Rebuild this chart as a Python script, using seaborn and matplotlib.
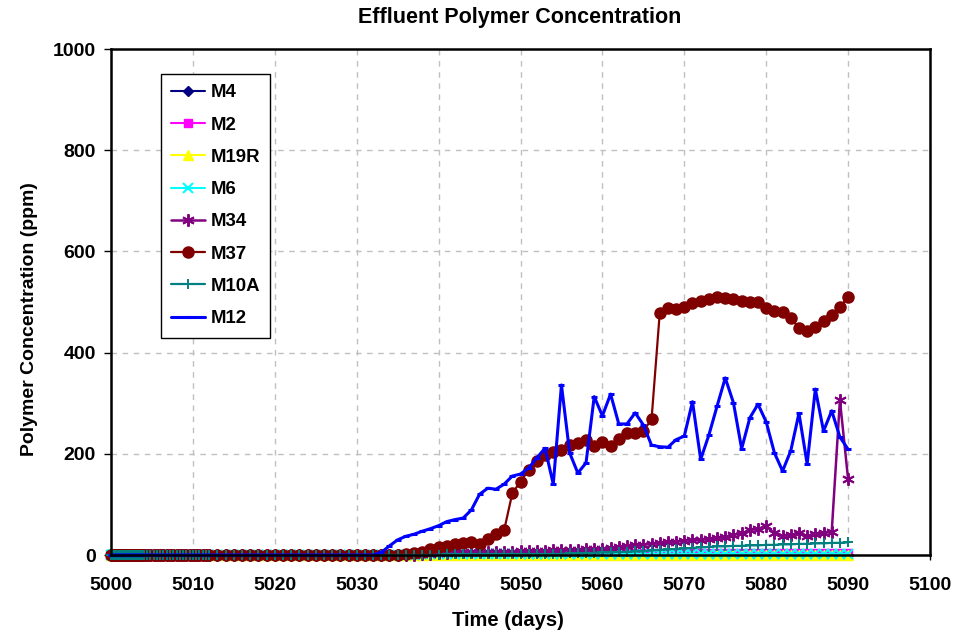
import numpy as np
import pandas as pd
import matplotlib
matplotlib.use("Agg")
import matplotlib.pyplot as plt
import seaborn as sns

# ---- data -------------------------------------------------------------
# dense early sampling, all wells still at zero concentration
early_days = np.round(np.concatenate([np.arange(5000, 5004, 0.1),
                                      np.arange(5004, 5012, 0.4)]), 2)
baseline_early = [0.0] * len(early_days)

# daily samples from day 5012 to 5090
days = np.arange(5012, 5091)

m4 = [0, 0, 0, 0, 0, 0, 0, 0, 0, 0,
      0, 0, 0, 0, 0, 0, 0, 0, 0, 0,
      0, 0, 0, 0, 0, 0, 0, 0, 0, 0,
      0, 0, 0, 0, 0, 0, 0, 0, 0, 0,
      0, 0, 0, 0, 0, 0, 0, 0, 0, 0,
      0, 0, 0, 0, 0, 0, 0, 0, 0, 0,
      0, 0, 0, 0, 0, 0, 0, 0, 0, 0,
      0, 0, 0, 0, 0, 0, 0, 0, 0]

m2 = [0, 0, 0, 0, 0, 0, 0, 0, 0, 0,
      0, 0, 0, 0, 0, 0, 0, 0, 0, 0,
      0, 0, 0, 0, 0, 0, 1, 1, 1, 2,
      2, 2, 2, 2, 2, 2, 2, 2, 2, 2,
      2, 2, 2, 2, 2, 2, 3, 3, 3, 3,
      3, 3, 3, 3, 3, 3, 3, 3, 3, 3,
      3, 3, 3, 3, 3, 3, 3, 3, 3, 3,
      3, 3, 3, 3, 3, 3, 3, 3, 3]

m19r = [0, 0, 0, 0, 0, 0, 0, 0, 0, 0,
        0, 0, 0, 0, 0, 0, 0, 0, 0, 0,
        0, 0, 0, 0, 0, 0, 0, 0, 0, 0,
        0, 0, 0, 0, 0, 0, 0, 0, 0, 0,
        0, 0, 0, 0, 0, 0, 0, 0, 0, 0,
        0, 0, 0, 0, 0, 0, 0, 0, 0, 0,
        0, 0, 0, 0, 0, 0, 0, 0, 0, 0,
        0, 0, 0, 0, 0, 0, 0, 0, 0]

m6 = [0, 0, 0, 0, 0, 0, 0, 0, 0, 0,
      0, 0, 0, 0, 0, 0, 0, 0, 0, 0,
      0, 0, 0, 0, 0, 0, 1, 1, 1, 1,
      1, 1, 1, 1, 1, 1, 1, 1, 1, 1,
      1, 1, 1, 1, 2, 2, 2, 2, 2, 2,
      2, 2, 2, 2, 2, 2, 2, 2, 2, 2,
      2, 2, 2, 2, 2, 2, 2, 2, 2, 2,
      2, 2, 2, 2, 2, 2, 2, 2, 2]

m34 = [0, 0, 0, 0, 0, 0, 0, 0, 0, 0,
       0, 0, 0, 0, 0, 0, 0, 0, 0, 0,
       0, 0, 0, 0, 0, 0, 1, 2, 3, 4,
       5, 5, 5, 5, 5, 6, 6, 6, 7, 7,
       8, 8, 9, 9, 10, 10, 11, 11, 12, 13,
       15, 17, 19, 20, 22, 23, 25, 26, 28, 29,
       30, 31, 33, 36, 40, 43, 49, 52, 57, 43,
       37, 39, 43, 37, 41, 43, 46, 306, 150]

m37 = [0, 0, 0, 0, 0, 0, 0, 0, 0, 0,
       0, 0, 0, 0, 0, 0, 0, 0, 0, 0,
       0, 0, 0, 0, 2, 3, 6, 12, 16, 18,
       22, 24, 26, 22, 32, 41, 49, 122, 145, 168,
       186, 197, 204, 208, 217, 221, 227, 216, 223, 216,
       229, 241, 241, 245, 268, 478, 488, 486, 490, 498,
       502, 506, 510, 508, 506, 502, 500, 500, 488, 483,
       480, 468, 449, 443, 451, 462, 474, 490, 510]

m10a = [0, 0, 0, 0, 0, 0, 0, 0, 0, 0,
        0, 0, 0, 0, 0, 0, 0, 0, 0, 0,
        0, 0, 0, 0, 0, 0, 0, 0, 0, 2,
        2, 2, 2, 2, 2, 2, 2, 2, 2, 2,
        2, 2, 2, 2, 3, 3, 4, 4, 5, 5,
        6, 6, 7, 7, 9, 10, 11, 12, 13, 14,
        15, 16, 17, 17, 18, 18, 19, 19, 20, 20,
        21, 21, 22, 22, 23, 23, 24, 24, 25]

m12 = [0, 0, 0, 0, 0, 0, 0, 0, 0, 0,
       0, 0, 0, 0, 0, 0, 0, 0, 0, 0,
       0, 5, 18, 30, 37, 41, 47, 52, 58, 66,
       70, 73, 89, 120, 132, 130, 140, 156, 160, 172,
       192, 211, 140, 336, 202, 162, 182, 313, 275, 318,
       259, 259, 281, 257, 217, 214, 213, 228, 235, 303,
       189, 237, 294, 350, 301, 210, 271, 298, 263, 202,
       166, 206, 280, 180, 328, 245, 285, 233, 209]

series_names = ["M4", "M2", "M19R", "M6", "M34", "M37", "M10A", "M12"]
series_values = [m4, m2, m19r, m6, m34, m37, m10a, m12]

# ---- styles -----------------------------------------------------------
styles = {
    "M4":   dict(color="#000080", marker="D", ms=5.5, lw=1.5, mew=1.0),
    "M2":   dict(color="#FF00FF", marker="s", ms=6,   lw=1.5, mew=1.0),
    "M19R": dict(color="#FFFF00", marker="^", ms=7,   lw=1.5, mew=1.0),
    "M6":   dict(color="#00FFFF", marker="x", ms=7,   lw=1.5, mew=1.5),
    "M34":  dict(color="#800080", marker=(6, 2, 0), ms=9, lw=1.8, mew=1.4),
    "M37":  dict(color="#800000", marker="o", ms=8,   lw=1.6, mew=1.0),
    "M10A": dict(color="#008080", marker="+", ms=7.5, lw=1.6, mew=1.4),
    "M12":  dict(color="#0000FF", marker="_", ms=5,   lw=2.2, mew=2.2),
}

frames = []
for name, vals in zip(series_names, series_values):
    frames.append(pd.DataFrame({"Time": early_days, "Conc": baseline_early,
                                "Well": name}))
    frames.append(pd.DataFrame({"Time": days, "Conc": vals, "Well": name}))
df = pd.concat(frames, ignore_index=True)

# ---- figure -----------------------------------------------------------
sns.set_theme(style="white")
plt.rcParams["font.family"] = ["Liberation Sans", "DejaVu Sans"]
plt.rcParams["font.weight"] = "bold"
plt.rcParams["text.color"] = "black"
plt.rcParams["axes.labelcolor"] = "black"
plt.rcParams["xtick.color"] = "black"
plt.rcParams["ytick.color"] = "black"

fig = plt.figure(figsize=(9.75, 6.37), dpi=100)
ax = fig.add_axes([111 / 975, 1 - 555 / 637, 819 / 975, 506 / 637])

for name in series_names:
    st = styles[name]
    sub = df[df["Well"] == name]
    sns.lineplot(data=sub, x="Time", y="Conc", ax=ax, label=name,
                 color=st["color"], marker=st["marker"],
                 markersize=st["ms"], linewidth=st["lw"],
                 markeredgecolor=st["color"], markerfacecolor=st["color"],
                 markeredgewidth=st["mew"], errorbar=None, sort=True,
                 clip_on=False)

ax.set_xlim(5000, 5100)
ax.set_ylim(0, 1000)
ax.set_xticks(np.arange(5000, 5101, 10))
ax.set_yticks(np.arange(0, 1001, 200))
ax.grid(True, color="#c0c0c0", linestyle=(0, (4, 4)), linewidth=1.0)
ax.set_axisbelow(True)
for sp in ax.spines.values():
    sp.set_color("black")
    sp.set_linewidth(1.8)
ax.tick_params(axis="y", direction="out", length=5, width=1.0,
               colors="black", labelsize=14, pad=6, left=True)
ax.tick_params(axis="x", direction="out", length=3.5, width=1.0,
               colors="black", labelsize=14, pad=12, bottom=True)
for lab in ax.get_xticklabels() + ax.get_yticklabels():
    lab.set_fontweight("bold")
    lab.set_color("black")
ax.set_xlabel("")
ax.set_ylabel("")

fig.text(520 / 975, 1 - 17 / 637, "Effluent Polymer Concentration",
         ha="center", va="center", fontsize=15.5, fontweight="bold",
         color="black")
fig.text(508 / 975, 1 - 621 / 637, "Time (days)",
         ha="center", va="center", fontsize=14.5, fontweight="bold",
         color="black")
fig.text(30 / 975, 1 - 319 / 637, "Polymer Concentration (ppm)",
         ha="center", va="center", rotation=90, fontsize=14,
         fontweight="bold", color="black")

leg = ax.legend(loc="upper left", bbox_to_anchor=(50 / 819, (555 - 74) / 506),
                borderaxespad=0, frameon=True, fancybox=False, numpoints=1,
                handlelength=1.8, labelspacing=0.82, borderpad=0.55,
                handletextpad=0.3,
                prop={"weight": "bold", "size": 13.4})
leg.get_frame().set_edgecolor("black")
leg.get_frame().set_linewidth(1.0)
leg.get_frame().set_alpha(1.0)
for txt in leg.get_texts():
    txt.set_color("black")

fig.savefig("out.png", dpi=100)
